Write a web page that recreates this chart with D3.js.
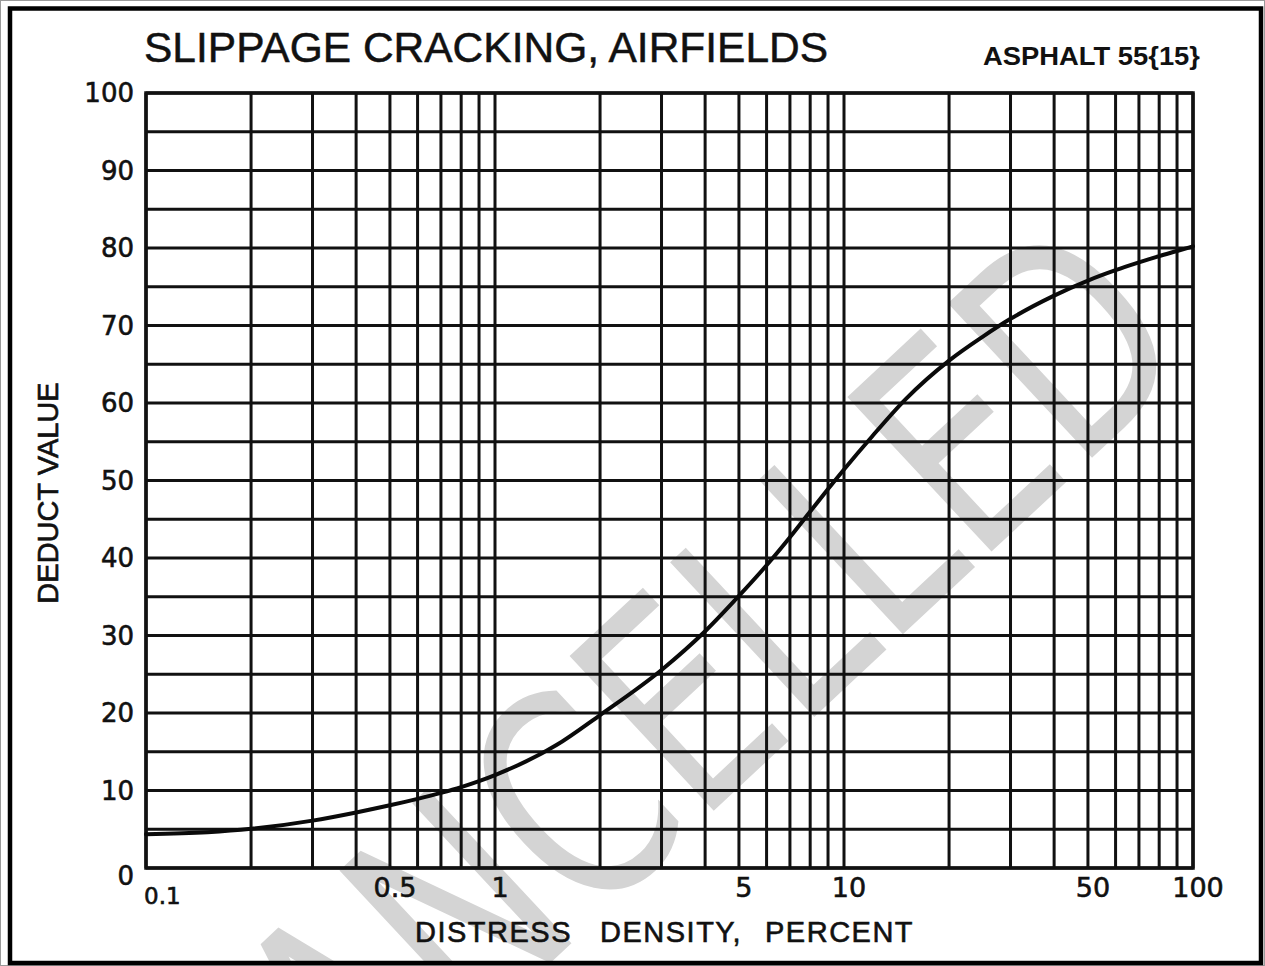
<!DOCTYPE html>
<html>
<head>
<meta charset="utf-8">
<script src="https://cdn.jsdelivr.net/npm/d3@7"></script>
<style>
  html, body { margin: 0; padding: 0; background: #fff; }
  svg { display: block; }
</style>
</head>
<body>
<svg id="chart" width="1265" height="966"></svg>
<script>
// Deduct value curve for slippage cracking on asphalt airfield pavements
const density = [0.1, 0.15, 0.2, 0.3, 0.4, 0.5, 0.6, 0.7, 0.8, 0.9, 1, 1.5, 2, 3, 4, 5, 6, 7, 8, 9, 10, 12, 15, 20, 25, 30, 40, 50, 60, 70, 80, 90, 100];
const deduct  = [4.35, 4.61, 5.05, 6.11, 7.17, 8.09, 8.92, 9.69, 10.44, 11.21, 11.99, 15.86, 19.74, 25.55, 30.55, 35.11, 39.06, 42.68, 45.99, 48.9, 51.43, 55.62, 60.47, 65.47, 68.57, 70.86, 73.86, 75.8, 77.14, 78.14, 78.95, 79.61, 80.21];

const xTickValues = [0.1, 0.5, 1, 5, 10, 50, 100];
const xTickLabels = ["0.1", "0.5", "1", "5", "10", "50", "100"];
const yTickValues = [0, 10, 20, 30, 40, 50, 60, 70, 80, 90, 100];
const yTickLabels = ["0", "10", "20", "30", "40", "50", "60", "70", "80", "90", "100"];

const titleText = "SLIPPAGE CRACKING, AIRFIELDS";
const codeText = "ASPHALT 55{15}";
const xTitleWords = ["DISTRESS", "DENSITY,", "PERCENT"];
const yTitle = "DEDUCT VALUE";
const stampText = "CANCELLED";

const W = 1265, H = 966;
const plot = { left: 146, right: 1193, top: 93, bottom: 868 };
const ink = "#111";

const svg = d3.select("#chart");

const x = d3.scaleLog().domain([0.1, 100]).range([plot.left, plot.right]);
const y = d3.scaleLinear().domain([0, 100]).range([plot.bottom, plot.top]);

// page background
svg.append("rect").attr("x", 0).attr("y", 0).attr("width", W).attr("height", H).attr("fill", "#fff");

// clip for the stamp so it stays inside the frame
svg.append("defs").append("clipPath").attr("id", "frameClip")
  .append("rect").attr("x", 12).attr("y", 11).attr("width", 1247).attr("height", 950);

// diagonal stamp behind the chart
svg.append("g").attr("clip-path", "url(#frameClip)")
  .append("text")
  .attr("transform", "translate(655,728) rotate(-43)")
  .attr("text-anchor", "middle")
  .attr("dominant-baseline", "central")
  .attr("font-family", "DejaVu Sans, sans-serif")
  .attr("font-size", 290)
  .attr("textLength", 1300)
  .attr("lengthAdjust", "spacingAndGlyphs")
  .attr("fill", "#d4d4d4")
  .text(stampText);

// grid: horizontal lines every 5 units
const gGrid = svg.append("g").attr("stroke", ink).attr("fill", "none");
gGrid.selectAll("line.h").data(y.ticks(20)).join("line")
  .attr("class", "h")
  .attr("x1", plot.left).attr("x2", plot.right)
  .attr("y1", d => y(d)).attr("y2", d => y(d))
  .attr("stroke-width", 2.8);

// vertical log-cycle lines
gGrid.selectAll("line.v").data(x.ticks()).join("line")
  .attr("class", "v")
  .attr("x1", d => x(d)).attr("x2", d => x(d))
  .attr("y1", plot.top).attr("y2", plot.bottom)
  .attr("stroke-width", 3);

// plot border
svg.append("rect")
  .attr("x", plot.left).attr("y", plot.top)
  .attr("width", plot.right - plot.left).attr("height", plot.bottom - plot.top)
  .attr("fill", "none").attr("stroke", ink).attr("stroke-width", 3.5);

// the curve
const line = d3.line()
  .x((d, i) => x(density[i]))
  .y(d => y(d))
  .curve(d3.curveMonotoneX);

svg.append("path")
  .datum(deduct)
  .attr("d", line)
  .attr("fill", "none")
  .attr("stroke", "#0a0a0a")
  .attr("stroke-width", 4)
  .attr("stroke-linejoin", "round")
  .attr("stroke-linecap", "round");

// shared text styling: slightly heavy lettering
function lettering(sel, size, family) {
  return sel.attr("font-family", family || "DejaVu Sans, sans-serif")
    .attr("font-size", size)
    .attr("fill", ink)
    .attr("stroke", ink)
    .attr("stroke-width", 0.6);
}

// y tick labels
lettering(svg.append("g").selectAll("text").data(yTickValues).join("text"), 26)
  .attr("x", plot.left - 12)
  .attr("y", d => y(d) + (d === 0 ? 8 : 0))
  .attr("text-anchor", "end")
  .attr("dominant-baseline", "central")
  .text((d, i) => yTickLabels[i]);

// x tick labels
lettering(svg.append("g").selectAll("text").data(xTickValues).join("text"), 27)
  .attr("x", d => x(d) + (d === 0.1 ? -2 : 5))
  .attr("y", d => d === 0.1 ? 904 : 897)
  .attr("text-anchor", d => d === 0.1 ? "start" : "middle")
  .attr("font-size", d => d === 0.1 ? 23 : 27)
  .text((d, i) => xTickLabels[i]);

// x axis title, words set with wide gaps
const xt = lettering(svg.append("text"), 29, "Liberation Sans, Arial, sans-serif")
  .attr("y", 942)
  .attr("letter-spacing", 1.5);
xt.selectAll("tspan").data(xTitleWords).join("tspan")
  .attr("x", (d, i) => [415, 600, 765][i])
  .text(d => d);

// y axis title
lettering(svg.append("text"), 29, "Liberation Sans, Arial, sans-serif")
  .attr("transform", "translate(58,493) rotate(-90)")
  .attr("text-anchor", "middle")
  .text(yTitle);

// chart title and code
lettering(svg.append("text"), 42.5, "Liberation Sans, Arial, sans-serif")
  .attr("x", 144).attr("y", 62)
  .attr("stroke-width", 0.5)
  .text(titleText);

svg.append("text")
  .attr("x", 983).attr("y", 65)
  .attr("font-family", "Liberation Sans, Arial, sans-serif")
  .attr("font-weight", "bold")
  .attr("font-size", 26)
  .attr("textLength", 217)
  .attr("lengthAdjust", "spacingAndGlyphs")
  .attr("fill", ink)
  .text(codeText);

// outer frame
svg.append("rect")
  .attr("x", 0.5).attr("y", 0.5).attr("width", W - 1).attr("height", H - 1)
  .attr("fill", "none").attr("stroke", "#9a9a9a").attr("stroke-width", 1);
svg.append("rect")
  .attr("x", 10).attr("y", 8.5).attr("width", 1251).attr("height", 954.5)
  .attr("fill", "none").attr("stroke", "#000").attr("stroke-width", 4.5);
</script>
</body>
</html>
